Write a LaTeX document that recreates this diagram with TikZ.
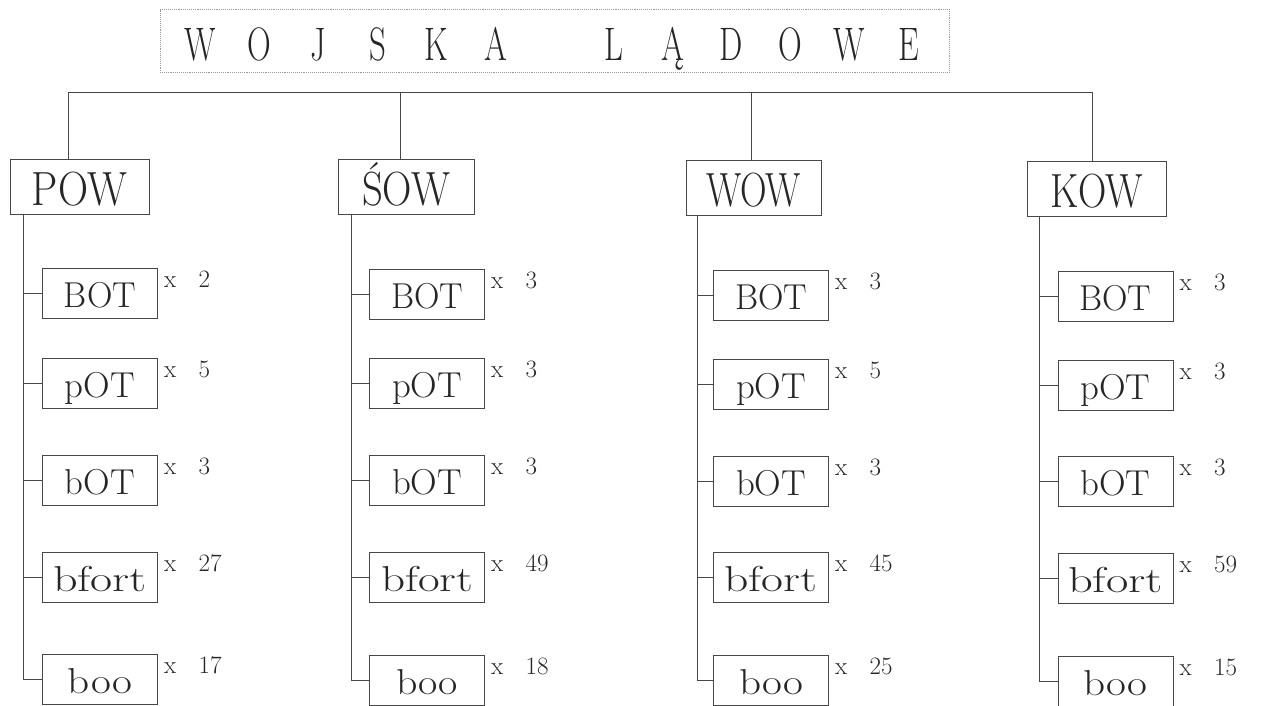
\documentclass[tikz,border=0pt]{standalone}
\usepackage{graphicx}
\newcommand\fitw[2]{\resizebox{#1pt}{\height}{#2}}
\newcommand\tlt[1]{\makebox[59pt]{\scalebox{0.7}[1]{#1}}}
\tikzset{
  ln/.style={draw=black!72, line width=0.8pt},
  ttl/.style={draw=black!40, densely dotted, line width=0.9pt, inner sep=0pt,
    minimum width=789pt, minimum height=63pt, text height=39pt, text depth=0pt,
    font=\fontsize{47}{50}\selectfont, text=black!85},
  topbox/.style={draw=black!72, line width=1pt, inner sep=0pt,
    minimum height=55pt, text height=37pt, text depth=0pt,
    font=\fontsize{48}{50}\selectfont, text=black!85},
  subbox/.style={draw=black!72, line width=1pt, inner sep=0pt,
    minimum width=115pt, minimum height=50pt, text height=28pt, text depth=0pt,
    font=\fontsize{36}{38}\selectfont, text=black!85},
  cnt/.style={inner sep=0pt, anchor=base west, font=\fontsize{25}{27}\selectfont, text=black!85},
}
\begin{document}
\begin{tikzpicture}[x=1pt,y=-1pt]
\useasboundingbox (0,0) rectangle (1261,705);
% title
\node[ttl] (title) at (554.5,40.5) {\tlt{W}\tlt{O}\tlt{J}\tlt{S}\tlt{K}\tlt{A}\hspace{59pt}\tlt{L}\tlt{Ą}\tlt{D}\tlt{O}\tlt{W}\tlt{E}};
% top level
\node[topbox, minimum width=139pt] (POW) at (79.5,186.5) {\fitw{95}{POW}};
\node[topbox, minimum width=136pt] (SOW) at (406,187) {\fitw{88}{ŚOW}};
\node[topbox, minimum width=135pt] (WOW) at (753.5,187.5) {\fitw{95}{WOW}};
\node[topbox, minimum width=139pt] (KOW) at (1096.5,188.5) {\fitw{93}{KOW}};
% bar
\coordinate (dP) at (68,92);
\coordinate (dS) at (400,92);
\coordinate (dW) at (751,92);
\coordinate (dK) at (1092,92);
\draw[ln] (POW.north -| dP) -- (dP) -- (dK) -- (KOW.north -| dK);
\draw[ln] (dS) -- (SOW.north -| dS);
\draw[ln] (dW) -- (WOW.north -| dW);
% POW children
\node[subbox] (pBOT) at (100,293) {\fitw{72}{BOT}};
\node[subbox] (ppOT) at (100,383) {\fitw{70}{pOT}};
\node[subbox] (pbOT) at (100,480) {\fitw{70}{bOT}};
\node[subbox] (pbfort) at (100,577) {\fitw{94}{bfort}};
\node[subbox] (pboo) at (100,679) {\fitw{64}{boo}};
% SOW children
\node[subbox] (sBOT) at (427,294) {\fitw{72}{BOT}};
\node[subbox] (spOT) at (427,383) {\fitw{70}{pOT}};
\node[subbox] (sbOT) at (427,480) {\fitw{70}{bOT}};
\node[subbox] (sbfort) at (427,577) {\fitw{92}{bfort}};
\node[subbox] (sboo) at (427,680) {\fitw{62}{boo}};
% WOW children
\node[subbox] (wBOT) at (771,295) {\fitw{72}{BOT}};
\node[subbox] (wpOT) at (771,384) {\fitw{70}{pOT}};
\node[subbox] (wbOT) at (771,481) {\fitw{70}{bOT}};
\node[subbox] (wbfort) at (771,577) {\fitw{93}{bfort}};
\node[subbox] (wboo) at (771,680) {\fitw{64}{boo}};
% KOW children
\node[subbox] (kBOT) at (1115.5,296) {\fitw{72}{BOT}};
\node[subbox] (kpOT) at (1115.5,385) {\fitw{70}{pOT}};
\node[subbox] (kbOT) at (1115.5,481) {\fitw{70}{bOT}};
\node[subbox] (kbfort) at (1115.5,578) {\fitw{95}{bfort}};
\node[subbox] (kboo) at (1115.5,681) {\fitw{64}{boo}};
% counts
\newcommand\cntlabel[2]{\node[cnt] (#1n) at ([shift={(6,20)}]#1.north east) {\makebox[34.5pt][l]{x}#2};}
\cntlabel{pBOT}{2}\cntlabel{ppOT}{5}\cntlabel{pbOT}{3}\cntlabel{pbfort}{27}\cntlabel{pboo}{17}
\cntlabel{sBOT}{3}\cntlabel{spOT}{3}\cntlabel{sbOT}{3}\cntlabel{sbfort}{49}\cntlabel{sboo}{18}
\cntlabel{wBOT}{3}\cntlabel{wpOT}{5}\cntlabel{wbOT}{3}\cntlabel{wbfort}{45}\cntlabel{wboo}{25}
\cntlabel{kBOT}{3}\cntlabel{kpOT}{3}\cntlabel{kbOT}{3}\cntlabel{kbfort}{59}\cntlabel{kboo}{15}
% tree connectors
\coordinate (pv) at ([xshift=14pt]POW.south west);
\coordinate (sv) at ([xshift=14pt]SOW.south west);
\coordinate (wv) at ([xshift=12pt]WOW.south west);
\coordinate (kv) at ([xshift=13pt]KOW.south west);
\draw[ln] (pv) |- (pboo.west);
\draw[ln] (sv) |- (sboo.west);
\draw[ln] (wv) |- (wboo.west);
\draw[ln] (kv) |- (kboo.west);
\foreach \c in {p,s,w,k}{
  \foreach \n in {BOT,pOT,bOT,bfort}{
    \draw[ln] (\c\n.west) -- (\c\n.west -| \c v);
  }
}
\end{tikzpicture}
\end{document}
